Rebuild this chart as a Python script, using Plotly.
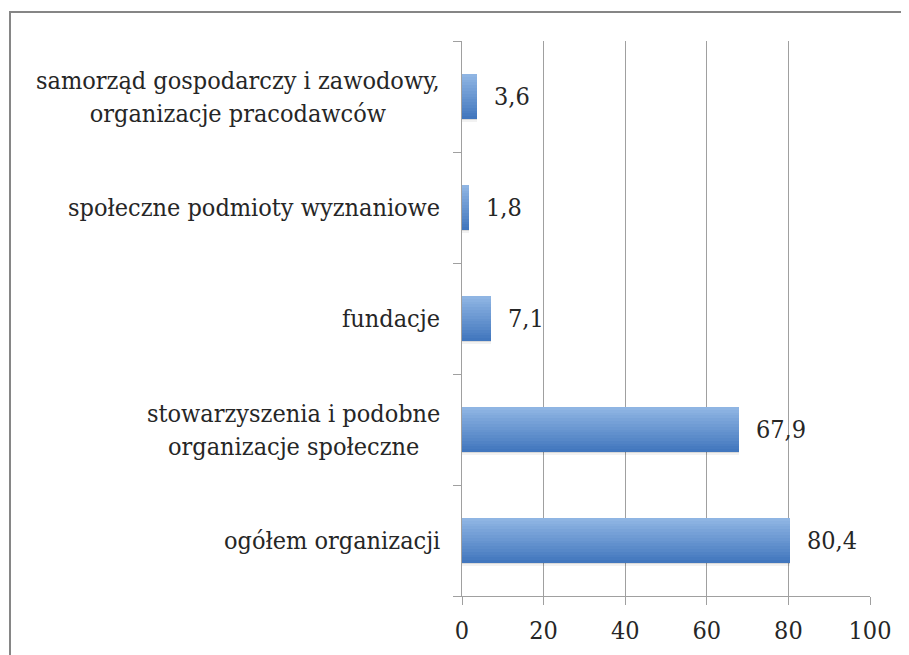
import plotly.graph_objects as go

categories = [
    "ogółem organizacji",
    "stowarzyszenia i podobne<br>organizacje społeczne",
    "fundacje",
    "społeczne podmioty wyznaniowe",
    "samorząd gospodarczy i zawodowy,<br>organizacje pracodawców",
]
values = [80.4, 67.9, 7.1, 1.8, 3.6]
value_labels = ["80,4", "67,9", "7,1", "1,8", "3,6"]
x_ticks = [0, 20, 40, 60, 80, 100]

FONT = "DejaVu Serif Condensed, DejaVu Serif, serif"
TXT = "#262626"
GRID = "#a0a0a0"

# page body offset (~8px) compensated in margins
L, T, W, H = 454, 33, 408, 555
fig = go.Figure()

bar_w = 0.405
# soft shadow under bars
for a, h in [(0.10, 0.012), (0.05, 0.024)]:
    fig.add_trace(go.Bar(
        y=categories, x=values, orientation="h",
        width=h, offset=-bar_w / 2 - h,
        marker=dict(color=f"rgba(0,0,0,{a})", line=dict(width=0)),
        hoverinfo="skip", showlegend=False,
    ))

# gradient bar made of thin horizontal slices (light on top, darker bottom)
top = (0x8F, 0xB5, 0xE3)
bot = (0x42, 0x77, 0xBE)
N = 16
sw = bar_w / N
for i in range(N):
    t = i / (N - 1)
    c = tuple(round(bot[j] + (top[j] - bot[j]) * t) for j in range(3))
    fig.add_trace(go.Bar(
        y=categories, x=values, orientation="h",
        width=sw * 1.02, offset=-bar_w / 2 + i * sw,
        marker=dict(color="rgb(%d,%d,%d)" % c, line=dict(width=0)),
        hoverinfo="skip", showlegend=False,
    ))

annotations = []
for cat, v, lab in zip(categories, values, value_labels):
    annotations.append(dict(
        x=v, y=cat, xref="x", yref="y", text=lab, showarrow=False,
        xanchor="left", yanchor="middle", xshift=15,
        font=dict(family=FONT, size=25, color=TXT),
    ))
    annotations.append(dict(
        x=0, y=cat, xref="paper", yref="y", text=cat, showarrow=False,
        xanchor="right", yanchor="middle", xshift=-20, align="center",
        font=dict(family=FONT, size=25, color=TXT),
    ))

fig.update_layout(
    width=909, height=655,
    margin=dict(l=L, r=909 - L - W, t=T, b=655 - T - H),
    paper_bgcolor="white", plot_bgcolor="white",
    barmode="overlay", bargap=0,
    showlegend=False,
    annotations=annotations,
    font=dict(family=FONT, size=25, color=TXT),
    xaxis=dict(
        range=[0, 100], tickvals=x_ticks, ticktext=[str(t) for t in x_ticks],
        showgrid=True, gridcolor=GRID, gridwidth=1,
        showline=True, linecolor=GRID, linewidth=1,
        ticks="outside", ticklen=8, tickcolor=GRID, ticklabelstandoff=4,
        zeroline=False, tickfont=dict(family=FONT, size=25, color=TXT),
    ),
    yaxis=dict(
        type="category", categoryorder="array", categoryarray=categories,
        range=[-0.5, 4.5], showticklabels=False,
        showgrid=False, zeroline=False,
        showline=True, linecolor=GRID, linewidth=1,
        ticks="outside", tickson="boundaries", ticklen=8, tickcolor=GRID,
    ),
    shapes=[dict(
        type="rect", xref="paper", yref="paper",
        x0=(2 - L) / W, x1=(930 - L) / W,
        y0=(T + H - 680) / H, y1=(T + H - 4) / H,
        line=dict(color="#868686", width=2), fillcolor="rgba(0,0,0,0)",
        layer="below",
    )],
)

fig.write_html("out.html")
